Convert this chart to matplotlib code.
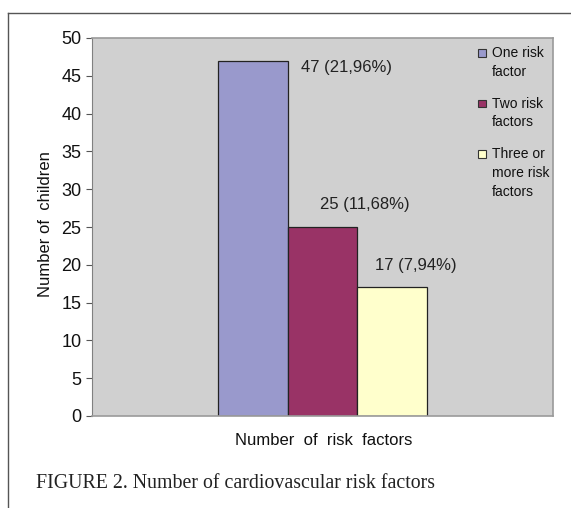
import matplotlib.pyplot as plt
from matplotlib.lines import Line2D
from matplotlib.patches import Rectangle

categories = ['One risk\nfactor', 'Two risk\nfactors', 'Three or\nmore risk\nfactors']
counts = [47, 25, 17]
labels = ['47 (21,96%)', '25 (11,68%)', '17 (7,94%)']
colors = ['#9999cc', '#993366', '#ffffcc']

plt.rcParams['font.family'] = ['Liberation Sans', 'DejaVu Sans']

W, H = 571, 508
fig = plt.figure(figsize=(W/100, H/100), dpi=100)
ax = fig.add_axes([92/W, 1-416/H, 461/W, 378/H])
ax.set_facecolor('#d0d0d0')

xs = range(len(counts))
bars = ax.bar(xs, counts, width=1.0, color=colors, edgecolor='#222222', linewidth=0.9)

# label offsets (points) relative to bar centre / top, as placed in the original
offsets = [(35, -5), (-1.5, 16), (-12, 16)]
for b, lab, off in zip(bars, labels, offsets):
    ax.annotate(lab, (b.get_x() + b.get_width()/2, b.get_height()),
                xytext=off, textcoords='offset points', ha='left', va='center',
                fontsize=12, color='#222222')

ax.set_xlim(-2.313, 4.32)
ax.set_ylim(0, 50)
ax.set_yticks(range(0, 51, 5))
ax.set_xticks([])
ax.tick_params(axis='y', direction='out', length=4.5, width=0.8, color='#555555',
               labelsize=13, pad=3, labelcolor='#111111')
for s in ['top', 'right', 'bottom']:
    ax.spines[s].set_color('#9a9a9a')
    ax.spines[s].set_linewidth(1.2)
ax.spines['left'].set_color('#808080')

ax.set_ylabel('Number of  children', fontsize=12, color='#111111')
ax.set_xlabel('Number  of  risk  factors', fontsize=12, color='#111111')
ax.xaxis.set_label_coords((324-92)/461, -0.045)
ax.yaxis.set_label_coords(-0.085, (416-224)/378)

# legend drawn by hand so the swatch sits on the first text line (Excel style)
y = 53  # pixel row of first line
for cat, c in zip(categories, colors):
    fig.add_artist(Rectangle((478/W, 1-(y+3.5)/H), 7.5/W, 7.5/H, facecolor=c,
                             edgecolor='#333333', linewidth=0.8))
    for k, line in enumerate(cat.split('\n')):
        fig.text(492/W, 1-(y + 19*k)/H, line, fontsize=10, va='center',
                 ha='left', color='#111111')
    y += 19*len(cat.split('\n')) + 12.5

fig.text(36/W, 1-483/H, 'FIGURE 2. Number of cardiovascular risk factors',
         family='Liberation Serif', fontsize=14.3, va='center', ha='left', color='#222222')

# outer frame lines
fig.add_artist(Line2D([8/W, 1], [1-13/H, 1-13/H], color='#555555', linewidth=1.0))
fig.add_artist(Line2D([8/W, 8/W], [0, 1-13/H], color='#555555', linewidth=1.0))

fig.savefig('out.png', dpi=100)
